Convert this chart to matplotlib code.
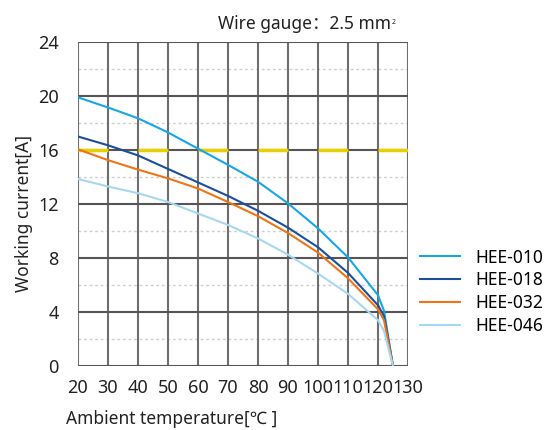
import matplotlib.pyplot as plt
import numpy as np

plt.rcParams['font.family'] = ['Noto Sans', 'Noto Sans CJK SC', 'DejaVu Sans']

temps = [20, 30, 40, 50, 60, 70, 80, 90, 100, 110, 120, 122, 125]
hee_010 = [19.9, 19.15, 18.35, 17.3, 16.1, 14.9, 13.65, 12.05, 10.2, 8.05, 5.25, 4.1, 0]
hee_018 = [17.0, 16.35, 15.6, 14.6, 13.6, 12.6, 11.5, 10.25, 8.8, 6.9, 4.5, 3.7, 0]
hee_032 = [16.05, 15.25, 14.55, 13.9, 13.15, 12.15, 11.1, 9.85, 8.4, 6.5, 4.2, 3.4, 0]
hee_046 = [13.85, 13.3, 12.8, 12.15, 11.3, 10.45, 9.45, 8.25, 6.85, 5.35, 3.4, 2.6, 0]

series = [('HEE-010', hee_010, '#16a6e9'),
          ('HEE-018', hee_018, '#1b4f9e'),
          ('HEE-032', hee_032, '#f07414'),
          ('HEE-046', hee_046, '#a6d8f2')]

x_ticks = list(range(20, 131, 10))
y_ticks = list(range(0, 25, 4))
limit_current = 16

fig = plt.figure(figsize=(5.52, 4.3), dpi=100)
ax = fig.add_axes([0.1413, 0.1488, 0.5978, 0.7535])

ax.set_xlim(20, 130)
ax.set_ylim(0, 24)

# grid
for y in range(2, 24, 4):
    ax.axhline(y, color='#cfcfcf', lw=1, ls=(0, (2, 2)), zorder=1)
for x in x_ticks:
    ax.axvline(x, color='#6e6e6e', lw=1.5, zorder=1)
for y in y_ticks:
    ax.axhline(y, color='#555555', lw=1.5, zorder=1)

# yellow limit line, dashed every other 10 degree cell
seg_start = x_ticks[:-1:2]
ax.hlines([limit_current] * len(seg_start), seg_start, [s + 10 for s in seg_start],
          color='#e8d000', lw=2.5, zorder=2)

for name, vals, color in series:
    ax.plot(temps, vals, color=color, lw=1.5, label=name, zorder=3)

for s in ax.spines.values():
    s.set_visible(False)

ax.set_xticks(x_ticks)
ax.set_yticks(y_ticks)
ax.tick_params(length=0, labelsize=13, colors='#222222')
ax.tick_params(axis='x', pad=9)
ax.tick_params(axis='y', pad=14)
ax.set_xlabel('Ambient temperature[℃ ]', fontsize=12.5, color='#222222')
ax.xaxis.set_label_coords(-0.035, -0.135)
ax.xaxis.label.set_ha('left')
ax.set_ylabel('Working current[A]', fontsize=12.5, color='#222222')
ax.yaxis.set_label_coords(-0.135, 0.47)

title = fig.text(0.395, 0.945, 'Wire gauge：2.5 mm', fontsize=12.5, color='#222222', va='center')
fig.canvas.draw()
bb = title.get_window_extent().transformed(fig.transFigure.inverted())
fig.text(bb.x1 + 0.001, 0.948, '2', fontsize=5, color='#222222', va='center')

ax.legend(loc='upper left', bbox_to_anchor=(1.0, 0.4), frameon=False, fontsize=12.5,
          handlelength=2.3, handletextpad=0.9, labelspacing=0.28, borderpad=0.2)

fig.savefig('out.png', dpi=100)
